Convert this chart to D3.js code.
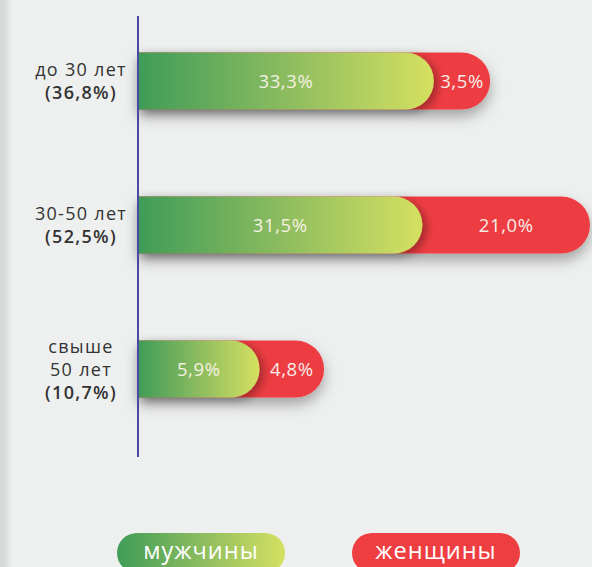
<!DOCTYPE html>
<html>
<head>
<meta charset="utf-8">
<script src="https://cdn.jsdelivr.net/npm/d3@7/dist/d3.min.js"></script>
<style>
  html, body { margin: 0; padding: 0; background: #eef0ef; }
  svg { display: block; }
</style>
</head>
<body>
<svg id="chart" width="592" height="567"></svg>
<script>
// Age groups, their share of the total, and the split by gender (percent)
const categories = ["до 30 лет", "30-50 лет", "свыше 50 лет"];
const categoryLines = [["до 30 лет"], ["30-50 лет"], ["свыше", "50 лет"]];
const totalValues = [36.8, 52.5, 10.7];
const maleValues = [33.3, 31.5, 5.9];
const femaleValues = [3.5, 21.0, 4.8];
const seriesNames = ["мужчины", "женщины"];

const fmt = v => d3.format(".1f")(v).replace(".", ",") + "%";

const W = 592, H = 567;
const axisX = 138;
const barH = 57;
const capM = 84, capF = 34;   // minimum room for each segment's rounded end and label
const FONT = "'Open Sans', 'Noto Sans', sans-serif";

const svg = d3.select("#chart");
const defs = svg.append("defs");

// Background with a soft darker strip at the left edge
svg.append("rect").attr("width", W).attr("height", H).attr("fill", "#eef0ef");
const edge = defs.append("linearGradient").attr("id", "edge");
edge.append("stop").attr("offset", "0%").attr("stop-color", "#d6d7d7");
edge.append("stop").attr("offset", "35%").attr("stop-color", "#d9dada");
edge.append("stop").attr("offset", "100%").attr("stop-color", "#eef0ef");
svg.append("rect").attr("width", 12).attr("height", H).attr("fill", "url(#edge)");

// Green gradient for the men's segment
const green = defs.append("linearGradient").attr("id", "green")
  .attr("x1", "0%").attr("x2", "100%").attr("y1", "0%").attr("y2", "0%");
green.append("stop").attr("offset", "0%").attr("stop-color", "#3f9c58");
green.append("stop").attr("offset", "50%").attr("stop-color", "#8cbc5f");
green.append("stop").attr("offset", "100%").attr("stop-color", "#d5e061");

// Drop shadows
const shadow = defs.append("filter").attr("id", "shadow")
  .attr("x", "-20%").attr("y", "-40%").attr("width", "140%").attr("height", "200%");
shadow.append("feDropShadow").attr("dx", 0).attr("dy", 7).attr("stdDeviation", 7)
  .attr("flood-color", "#000").attr("flood-opacity", 0.32);
const shadowSide = defs.append("filter").attr("id", "shadowSide")
  .attr("x", "-20%").attr("y", "-40%").attr("width", "140%").attr("height", "200%");
shadowSide.append("feDropShadow").attr("dx", 4).attr("dy", 3).attr("stdDeviation", 5)
  .attr("flood-color", "#000").attr("flood-opacity", 0.35);

// Scales
const x = d3.scaleLinear().domain([0, d3.max(totalValues)]).range([0, 334]);
const y = d3.scalePoint().domain(categories).range([81, 369]);

// Bar with a square left end and a fully rounded right end
function pill(x0, x1, yc, h) {
  const r = h / 2;
  const p = d3.path();
  p.moveTo(x0, yc - r);
  p.lineTo(x1 - r, yc - r);
  p.arc(x1 - r, yc, r, -Math.PI / 2, Math.PI / 2);
  p.lineTo(x0, yc + r);
  p.closePath();
  return p.toString();
}

const rows = categories.map((c, i) => {
  const mEnd = axisX + capM + x(maleValues[i]);
  const fEnd = mEnd + capF + x(femaleValues[i]);
  return { c, i, mEnd, fEnd, yc: y(c) };
});

const g = svg.append("g");
const row = g.selectAll("g.row").data(rows).join("g").attr("class", "row");

row.append("path")
  .attr("d", d => pill(axisX, d.fEnd, d.yc, barH))
  .attr("fill", "#ee3e42")
  .attr("filter", "url(#shadow)");
row.append("path")
  .attr("d", d => pill(axisX, d.mEnd, d.yc, barH))
  .attr("fill", "url(#green)")
  .attr("filter", "url(#shadowSide)");

const valueStyle = s => s
  .attr("y", d => d.yc + 6.5)
  .attr("text-anchor", "middle")
  .attr("font-family", FONT).attr("font-size", 18.5)
  .attr("letter-spacing", 0.6);

row.append("text").call(valueStyle)
  .attr("x", d => (axisX + d.mEnd) / 2)
  .attr("fill", "#f6f1e2")
  .text(d => fmt(maleValues[d.i]));
row.append("text").call(valueStyle)
  .attr("x", d => (d.mEnd + d.fEnd) / 2)
  .attr("fill", "#f8ece6")
  .text(d => fmt(femaleValues[d.i]));

// Category labels: name lines plus the group's share in bold
const lineH = 23;
row.each(function (d) {
  const lines = categoryLines[d.i].map(t => ({ t, bold: false }))
    .concat([{ t: "(" + fmt(totalValues[d.i]) + ")", bold: true }]);
  const y0 = d.yc - (lines.length - 1) * lineH / 2 + 6.5;
  d3.select(this).append("text")
    .attr("text-anchor", "middle")
    .attr("font-family", FONT).attr("font-size", 18)
    .attr("letter-spacing", 1.3)
    .attr("fill", "#333333")
    .selectAll("tspan").data(lines).join("tspan")
    .attr("x", 81)
    .attr("y", (l, k) => y0 + k * lineH)
    .attr("font-weight", l => l.bold ? 600 : 400)
    .text(l => l.t);
});

// Vertical baseline axis
svg.append("line")
  .attr("x1", axisX).attr("x2", axisX)
  .attr("y1", 16).attr("y2", 457)
  .attr("stroke", "#4a4aa6").attr("stroke-width", 2);

// Legend
const legend = svg.append("g");
const legendX = d3.scalePoint().domain(seriesNames).range([201, 436]);
const lg = legend.selectAll("g").data(seriesNames).join("g");
lg.append("rect")
  .attr("x", d => legendX(d) - 84).attr("y", 533)
  .attr("width", 168).attr("height", 40).attr("rx", 20)
  .attr("fill", (d, i) => i === 0 ? "url(#green)" : "#ee3e42");
lg.append("text")
  .attr("x", d => legendX(d)).attr("y", 559)
  .attr("text-anchor", "middle")
  .attr("font-family", FONT).attr("font-size", 23.5)
  .attr("letter-spacing", 1)
  .attr("fill", "#ffffff")
  .text(d => d);
</script>
</body>
</html>
